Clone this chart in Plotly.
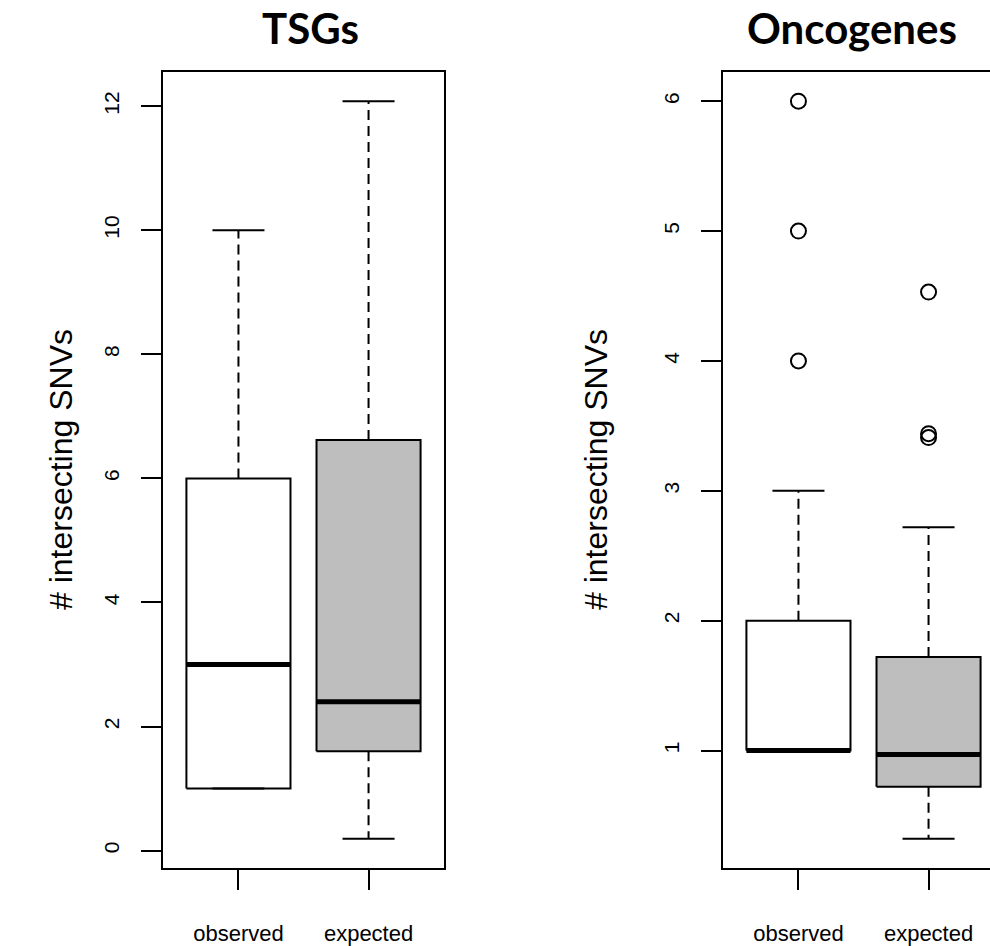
import plotly.graph_objects as go

# ---------------- data ----------------
groups = ["observed", "expected"]
panel_titles = ["TSGs", "Oncogenes"]
y_title = "# intersecting SNVs"

tsg_lower = [1.0, 0.19]
tsg_q1 = [1.0, 1.60]
tsg_median = [3.0, 2.40]
tsg_q3 = [6.0, 6.62]
tsg_upper = [10.0, 12.08]
tsg_outliers = [[], []]

onc_lower = [1.0, 0.32]
onc_q1 = [1.0, 0.72]
onc_median = [1.0, 0.97]
onc_q3 = [2.0, 1.72]
onc_upper = [3.0, 2.72]
onc_outliers = [[4.0, 5.0, 6.0], [3.41, 3.44, 4.53]]

tsg_ticks = [0, 2, 4, 6, 8, 10, 12]
onc_ticks = [1, 2, 3, 4, 5, 6]

box_fills = ["white", "#BEBEBE"]

# ---------------- layout constants ----------------
W, H = 990, 946
PLOT_TOP, PLOT_BOT = 72, 872
L_LEFT, L_RIGHT = 163, 444
R_LEFT = 723
FULL_W = L_RIGHT - L_LEFT  # width of a full panel in px
BOX_HALF = 0.4
CAP_HALF = 0.2
AX_FONT = "Liberation Sans, Arial, Helvetica, sans-serif"

fig = go.Figure()


def add_panel(xref, yref, lower, q1, med, q3, upper, outliers):
    for i, _ in enumerate(groups):
        c = i + 1
        # whiskers (dashed)
        fig.add_trace(go.Scatter(
            x=[c, c, None, c, c], y=[q3[i], upper[i], None, q1[i], lower[i]],
            mode="lines", line=dict(color="black", width=2, dash="10px,6px"),
            xaxis=xref, yaxis=yref, hoverinfo="skip"))
        # box
        fig.add_trace(go.Scatter(
            x=[c - BOX_HALF, c + BOX_HALF, c + BOX_HALF, c - BOX_HALF, c - BOX_HALF],
            y=[q1[i], q1[i], q3[i], q3[i], q1[i]],
            mode="lines", fill="toself", fillcolor=box_fills[i],
            line=dict(color="black", width=2),
            xaxis=xref, yaxis=yref, hoverinfo="skip"))
        # median
        fig.add_trace(go.Scatter(
            x=[c - BOX_HALF, c + BOX_HALF], y=[med[i], med[i]],
            mode="lines", line=dict(color="black", width=5),
            xaxis=xref, yaxis=yref, hoverinfo="skip"))
        # caps
        fig.add_trace(go.Scatter(
            x=[c - CAP_HALF, c + CAP_HALF, None, c - CAP_HALF, c + CAP_HALF],
            y=[upper[i], upper[i], None, lower[i], lower[i]],
            mode="lines", line=dict(color="black", width=2),
            xaxis=xref, yaxis=yref, hoverinfo="skip"))
        # outliers
        if outliers[i]:
            fig.add_trace(go.Scatter(
                x=[c] * len(outliers[i]), y=outliers[i], mode="markers",
                marker=dict(symbol="circle-open", size=15, color="black",
                            line=dict(width=2, color="black")),
                xaxis=xref, yaxis=yref, hoverinfo="skip"))


add_panel("x", "y", tsg_lower, tsg_q1, tsg_median, tsg_q3, tsg_upper, tsg_outliers)
add_panel("x2", "y2", onc_lower, onc_q1, onc_median, onc_q3, onc_upper, onc_outliers)


def r_range(vals):
    lo, hi = min(vals), max(vals)
    pad = (hi - lo) * 0.04
    return [lo - pad, hi + pad]


tsg_all = tsg_lower + tsg_upper + [v for o in tsg_outliers for v in o]
onc_all = onc_lower + onc_upper + [v for o in onc_outliers for v in o]

xr_full = [0.5 - 0.08, 2.5 + 0.08]
span = xr_full[1] - xr_full[0]
xr_right = [xr_full[0], xr_full[0] + span * (W - R_LEFT) / FULL_W]

ydom = [1 - PLOT_BOT / H, 1 - PLOT_TOP / H]

xcommon = dict(tickvals=[1, 2], ticktext=groups, ticks="outside", ticklen=20,
               tickwidth=2, tickcolor="black", showline=True, linewidth=2,
               linecolor="black", mirror=True, showgrid=False, zeroline=False,
               tickfont=dict(family=AX_FONT, size=22, color="black"),
               ticklabelstandoff=24, fixedrange=True)
ycommon = dict(ticks="outside", ticklen=20, tickwidth=2, tickcolor="black",
               showline=True, linewidth=2, linecolor="black", showgrid=False,
               zeroline=False, tickangle=-90,
               tickfont=dict(family=AX_FONT, size=21, color="black"),
               ticklabelstandoff=14, fixedrange=True)

fig.update_layout(
    width=W, height=H, margin=dict(l=0, r=0, t=0, b=0),
    paper_bgcolor="white", plot_bgcolor="white", showlegend=False,
    xaxis=dict(domain=[L_LEFT / W, L_RIGHT / W], range=xr_full, anchor="y", **xcommon),
    yaxis=dict(domain=ydom, range=r_range(tsg_all), tickvals=tsg_ticks,
               ticktext=[str(t) for t in tsg_ticks], anchor="x", mirror=True, **ycommon),
    xaxis2=dict(domain=[R_LEFT / W, 1.0], range=xr_right, anchor="y2", **xcommon),
    yaxis2=dict(domain=ydom, range=r_range(onc_all), tickvals=onc_ticks,
                ticktext=[str(t) for t in onc_ticks], anchor="x2", mirror=False, **ycommon),
)

annotations = [
    dict(text="<b>" + panel_titles[0] + "</b>", x=310 / W, y=1 - 28 / H),
    dict(text="<b>" + panel_titles[1] + "</b>", x=852 / W, y=1 - 28 / H),
]
for a in annotations:
    a.update(xref="paper", yref="paper", showarrow=False, xanchor="center",
             yanchor="middle", font=dict(family="Lato, Open Sans, sans-serif",
                                         size=42, color="black"))
    fig.add_annotation(**a)

for xc in [61, 596]:
    fig.add_annotation(text=y_title, x=xc / W, y=1 - 472 / H, xref="paper", yref="paper",
                       showarrow=False, textangle=-90, xanchor="center", yanchor="middle",
                       font=dict(family=AX_FONT, size=32, color="black"))

fig.write_html("out.html")
